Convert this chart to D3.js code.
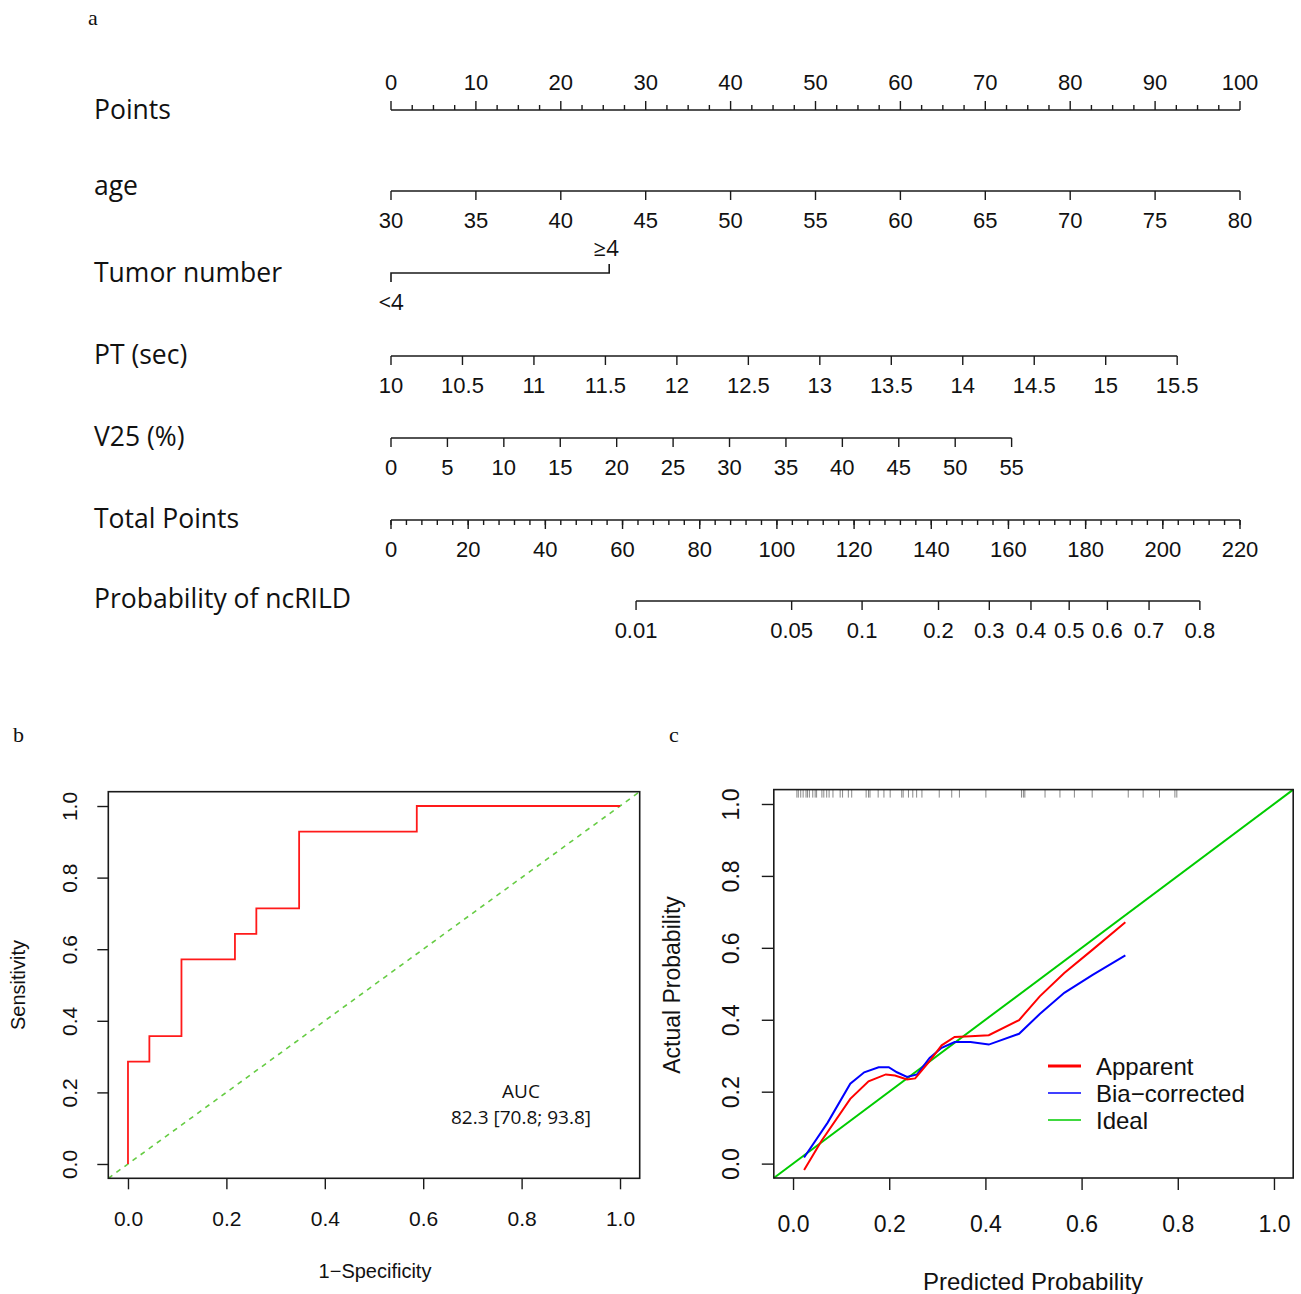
<!DOCTYPE html>
<html>
<head>
<meta charset="utf-8">
<script src="https://cdn.jsdelivr.net/npm/d3@7"></script>
<style>
  body { margin: 0; background: #fff; }
  text { font-family: "Liberation Sans", Arial, sans-serif; fill: #111; }
</style>
</head>
<body>
<div id="chart"></div>
<script>
// ---- nomogram data ----
var pointsTicks = d3.range(0, 101, 10);
var ageTicks = d3.range(30, 81, 5);
var agePoints = [0, 100];                 // points at age 30 and 80
var tumorLevels = ["<4", "\u22654"];
var tumorPoints = [0, 25.7];
var ptTicks = d3.range(10, 15.51, 0.5);
var ptPoints = [0, 92.6];                 // points at PT 10 and 15.5
var v25Ticks = d3.range(0, 56, 5);
var v25Points = [0, 73.1];                // points at V25 0 and 55
var totalTicks = d3.range(0, 221, 20);
var probTicks = [0.01, 0.05, 0.1, 0.2, 0.3, 0.4, 0.5, 0.6, 0.7, 0.8];
var probTotal = [63.5, 209.6];            // total points at p=0.01 and p=0.8

// ---- ROC data (b) ----
var rocFpr = [0, 0, 2/46, 2/46, 5/46, 5/46, 10/46, 10/46, 12/46, 12/46, 16/46, 16/46, 27/46, 27/46, 1];
var rocTpr = [0, 4/14, 4/14, 5/14, 5/14, 8/14, 8/14, 9/14, 9/14, 10/14, 10/14, 13/14, 13/14, 1, 1];
var aucText = ["AUC", "82.3 [70.8; 93.8]"];

// ---- calibration data (c) ----
var appX = [0.023, 0.059, 0.119, 0.157, 0.193, 0.212, 0.237, 0.254, 0.284, 0.309, 0.336, 0.369, 0.407, 0.470, 0.513, 0.564, 0.623, 0.691];
var appY = [-0.018, 0.063, 0.180, 0.229, 0.248, 0.245, 0.234, 0.237, 0.285, 0.329, 0.352, 0.354, 0.357, 0.399, 0.465, 0.530, 0.595, 0.671];
var biasX = [0.023, 0.072, 0.119, 0.148, 0.178, 0.199, 0.216, 0.237, 0.258, 0.284, 0.309, 0.336, 0.369, 0.407, 0.470, 0.513, 0.564, 0.623, 0.691];
var biasY = [0.017, 0.114, 0.222, 0.254, 0.268, 0.268, 0.254, 0.241, 0.248, 0.294, 0.322, 0.338, 0.338, 0.331, 0.361, 0.416, 0.475, 0.525, 0.579];
var rug = [0.008, 0.011, 0.016, 0.021, 0.027, 0.030, 0.034, 0.041, 0.046, 0.049, 0.060, 0.064, 0.070, 0.075, 0.083,
           0.098, 0.103, 0.115, 0.122, 0.152, 0.157, 0.160, 0.177, 0.189, 0.202, 0.226, 0.229, 0.240, 0.249, 0.257,
           0.268, 0.304, 0.330, 0.346, 0.401, 0.475, 0.479, 0.482, 0.524, 0.555, 0.585, 0.622, 0.697, 0.728, 0.762,
           0.794, 0.798];
var legendNames = ["Apparent", "Bia\u2212corrected", "Ideal"];
var legendColors = ["#ff0000", "#0000ff", "#00cc00"];
var axisTicks = [0, 0.2, 0.4, 0.6, 0.8, 1.0];

var svg = d3.select("#chart").append("svg")
    .attr("width", 1301)
    .attr("height", 1294);

var ink = "#1a1a1a";

// panel letters
svg.append("text").attr("x", 88).attr("y", 25).text("a")
   .style("font-family", "'Liberation Serif', serif").style("font-size", "22px");
svg.append("text").attr("x", 13).attr("y", 742).text("b")
   .style("font-family", "'Liberation Serif', serif").style("font-size", "22px");
svg.append("text").attr("x", 669).attr("y", 742).text("c")
   .style("font-family", "'Liberation Serif', serif").style("font-size", "22px");

// ================= a: nomogram =================
var pointsX = d3.scaleLinear().domain([0, 100]).range([391, 1240]);
var totalX = d3.scaleLinear().domain([0, 220]).range([391, 1240]);
var logit = function(p) { return Math.log(p / (1 - p)); };
var probToTotal = d3.scaleLinear().domain([logit(0.01), logit(0.8)]).range(probTotal);

var nomo = svg.append("g");
var labelX = 94;

function rowLabel(y, txt) {
  nomo.append("text").attr("x", labelX).attr("y", y).attr("dy", "0.35em")
      .style("font-family", "'Open Sans', sans-serif")
      .style("font-size", "26.5px").text(txt);
}

// generic scale line with ticks below
function scaleRow(y, ticks, px, fmt, minor) {
  var ext = d3.extent(ticks);
  nomo.append("line").attr("x1", px(ext[0])).attr("x2", px(ext[1]))
      .attr("y1", y).attr("y2", y).attr("stroke", ink).attr("stroke-width", 1.6);
  if (minor) {
    nomo.selectAll(null).data(minor).enter().append("line")
        .attr("x1", px).attr("x2", px).attr("y1", y).attr("y2", y + 5)
        .attr("stroke", ink).attr("stroke-width", 1.4);
  }
  nomo.selectAll(null).data(ticks).enter().append("line")
      .attr("x1", px).attr("x2", px).attr("y1", y).attr("y2", y + 9)
      .attr("stroke", ink).attr("stroke-width", 1.4);
  nomo.selectAll(null).data(ticks).enter().append("text")
      .attr("x", px).attr("y", y + 37).attr("text-anchor", "middle")
      .style("font-size", "22px").text(fmt);
}

// Points row (ticks upward, labels above)
rowLabel(110, "Points");
nomo.append("line").attr("x1", pointsX(0)).attr("x2", pointsX(100))
    .attr("y1", 110).attr("y2", 110).attr("stroke", ink).attr("stroke-width", 1.6);
nomo.selectAll(null).data(d3.range(0, 100.1, 2.5)).enter().append("line")
    .attr("x1", pointsX).attr("x2", pointsX).attr("y1", 110)
    .attr("y2", function(d) { return d % 10 === 0 ? 101 : 105; })
    .attr("stroke", ink).attr("stroke-width", 1.4);
nomo.selectAll(null).data(pointsTicks).enter().append("text")
    .attr("x", pointsX).attr("y", 90).attr("text-anchor", "middle")
    .style("font-size", "22px").text(function(d) { return d; });

// age
rowLabel(186, "age");
var agePx = function(v) { return pointsX(d3.scaleLinear().domain([30, 80]).range(agePoints)(v)); };
scaleRow(191, ageTicks, agePx, function(d) { return d; });

// Tumor number
rowLabel(273, "Tumor number");
var tx0 = pointsX(tumorPoints[0]), tx1 = pointsX(tumorPoints[1]);
nomo.append("path")
    .attr("d", "M" + tx0 + "," + 282 + "V273H" + tx1 + "V264")
    .attr("fill", "none").attr("stroke", ink).attr("stroke-width", 1.6);
nomo.append("text").attr("x", tx0).attr("y", 310).attr("text-anchor", "middle")
    .style("font-family", "'Open Sans', sans-serif").style("font-size", "22px").text(tumorLevels[0]);
nomo.append("text").attr("x", tx1 - 3).attr("y", 256).attr("text-anchor", "middle")
    .style("font-family", "'Open Sans', sans-serif").style("font-size", "22px").text(tumorLevels[1]);

// PT
rowLabel(355, "PT (sec)");
var ptPx = function(v) { return pointsX(d3.scaleLinear().domain([10, 15.5]).range(ptPoints)(v)); };
scaleRow(356, ptTicks, ptPx, function(d) { return d3.format("")(+d.toFixed(1)); });

// V25
rowLabel(437, "V25 (%)");
var v25Px = function(v) { return pointsX(d3.scaleLinear().domain([0, 55]).range(v25Points)(v)); };
scaleRow(438, v25Ticks, v25Px, function(d) { return d; });

// Total points
rowLabel(519, "Total Points");
scaleRow(520, totalTicks, totalX, function(d) { return d; }, d3.range(0, 220.1, 4));

// Probability
rowLabel(599, "Probability of ncRILD");
var probPx = function(p) { return totalX(probToTotal(logit(p))); };
scaleRow(601, probTicks, probPx, function(d) { return d; });

// ================= b: ROC =================
var xb = d3.scaleLinear().domain([-0.04, 1.04]).range([108.3, 639.7]);
var yb = d3.scaleLinear().domain([-0.04, 1.04]).range([1178.3, 791.7]);
var gb = svg.append("g");

gb.append("line")
  .attr("x1", xb(-0.04)).attr("y1", yb(-0.04)).attr("x2", xb(1.04)).attr("y2", yb(1.04))
  .attr("stroke", "#66cc44").attr("stroke-width", 1.6).attr("stroke-dasharray", "5,5");

gb.append("path")
  .datum(d3.range(rocFpr.length))
  .attr("fill", "none").attr("stroke", "#ff1a1a").attr("stroke-width", 1.8)
  .attr("d", d3.line().x(function(i) { return xb(rocFpr[i]); }).y(function(i) { return yb(rocTpr[i]); }));

gb.append("rect").attr("x", xb(-0.04)).attr("y", yb(1.04))
  .attr("width", xb(1.04) - xb(-0.04)).attr("height", yb(-0.04) - yb(1.04))
  .attr("fill", "none").attr("stroke", ink).attr("stroke-width", 1.6);

var axb = gb.append("g").attr("transform", "translate(0," + yb(-0.04) + ")")
  .call(d3.axisBottom(xb).tickValues(axisTicks).tickSize(11).tickFormat(d3.format(".1f")));
axb.select(".domain").remove();
axb.selectAll("line").attr("stroke", ink).attr("stroke-width", 1.4);
axb.selectAll("text").attr("y", 33).style("font-size", "21px").style("font-family", "'Liberation Sans', Arial, sans-serif").attr("fill", "#111");

var ayb = gb.append("g").attr("transform", "translate(" + xb(-0.04) + ",0)")
  .call(d3.axisLeft(yb).tickValues(axisTicks).tickSize(11).tickFormat(d3.format(".1f")));
ayb.select(".domain").remove();
ayb.selectAll("line").attr("stroke", ink).attr("stroke-width", 1.4);
ayb.selectAll("text").attr("x", 0).attr("y", -31).attr("dy", 0)
  .attr("transform", "rotate(-90)").attr("text-anchor", "middle")
  .style("font-size", "21px").style("font-family", "'Liberation Sans', Arial, sans-serif").attr("fill", "#111");

gb.append("text").attr("x", 375).attr("y", 1278).attr("text-anchor", "middle")
  .style("font-size", "20px").text("1\u2212Specificity");
gb.append("text").attr("transform", "translate(25,985) rotate(-90)").attr("text-anchor", "middle")
  .style("font-size", "20px").text("Sensitivity");

gb.selectAll(null).data(aucText).enter().append("text")
  .attr("x", 521).attr("y", function(d, i) { return 1098 + i * 26; })
  .attr("text-anchor", "middle")
  .style("font-family", "'Open Sans', sans-serif").style("font-size", "19px")
  .text(function(d) { return d; });

// ================= c: calibration =================
var xc = d3.scaleLinear().domain([-0.04, 1.04]).range([773.8, 1293.2]);
var yc = d3.scaleLinear().domain([-0.04, 1.04]).range([1178, 789.6]);
var gc = svg.append("g");

gc.selectAll(null).data(rug).enter().append("line")
  .attr("x1", xc).attr("x2", xc).attr("y1", yc(1.04)).attr("y2", yc(1.04) + 8)
  .attr("stroke", "#888").attr("stroke-width", 1);

gc.append("line")
  .attr("x1", xc(-0.04)).attr("y1", yc(-0.04)).attr("x2", xc(1.04)).attr("y2", yc(1.04))
  .attr("stroke", legendColors[2]).attr("stroke-width", 2);

var lineC = d3.line().x(function(d) { return xc(d[0]); }).y(function(d) { return yc(d[1]); });
gc.append("path").datum(d3.zip(biasX, biasY))
  .attr("fill", "none").attr("stroke", legendColors[1]).attr("stroke-width", 2).attr("d", lineC);
gc.append("path").datum(d3.zip(appX, appY))
  .attr("fill", "none").attr("stroke", legendColors[0]).attr("stroke-width", 2).attr("d", lineC);

gc.append("rect").attr("x", xc(-0.04)).attr("y", yc(1.04))
  .attr("width", xc(1.04) - xc(-0.04)).attr("height", yc(-0.04) - yc(1.04))
  .attr("fill", "none").attr("stroke", ink).attr("stroke-width", 1.6);

var axc = gc.append("g").attr("transform", "translate(0," + yc(-0.04) + ")")
  .call(d3.axisBottom(xc).tickValues(axisTicks).tickSize(12).tickFormat(d3.format(".1f")));
axc.select(".domain").remove();
axc.selectAll("line").attr("stroke", ink).attr("stroke-width", 1.4);
axc.selectAll("text").attr("y", 38).style("font-size", "23px").style("font-family", "'Liberation Sans', Arial, sans-serif").attr("fill", "#111");

var ayc = gc.append("g").attr("transform", "translate(" + xc(-0.04) + ",0)")
  .call(d3.axisLeft(yc).tickValues(axisTicks).tickSize(12).tickFormat(d3.format(".1f")));
ayc.select(".domain").remove();
ayc.selectAll("line").attr("stroke", ink).attr("stroke-width", 1.4);
ayc.selectAll("text").attr("x", 0).attr("y", -35).attr("dy", 0)
  .attr("transform", "rotate(-90)").attr("text-anchor", "middle")
  .style("font-size", "23px").style("font-family", "'Liberation Sans', Arial, sans-serif").attr("fill", "#111");

gc.append("text").attr("x", 1033).attr("y", 1290).attr("text-anchor", "middle")
  .style("font-size", "24px").text("Predicted Probability");
gc.append("text").attr("transform", "translate(680,985) rotate(-90)").attr("text-anchor", "middle")
  .style("font-size", "23px").text("Actual Probability");

var leg = gc.selectAll(null).data(legendNames).enter().append("g")
  .attr("transform", function(d, i) { return "translate(1048," + (1066 + i * 27) + ")"; });
leg.append("line").attr("x1", 0).attr("x2", 33).attr("y1", 0).attr("y2", 0)
  .attr("stroke", function(d, i) { return legendColors[i]; })
  .attr("stroke-width", function(d, i) { return i === 0 ? 3 : 1.6; });
leg.append("text").attr("x", 48).attr("dy", "0.36em")
  .style("font-size", "24px").text(function(d) { return d; });
</script>
</body>
</html>
